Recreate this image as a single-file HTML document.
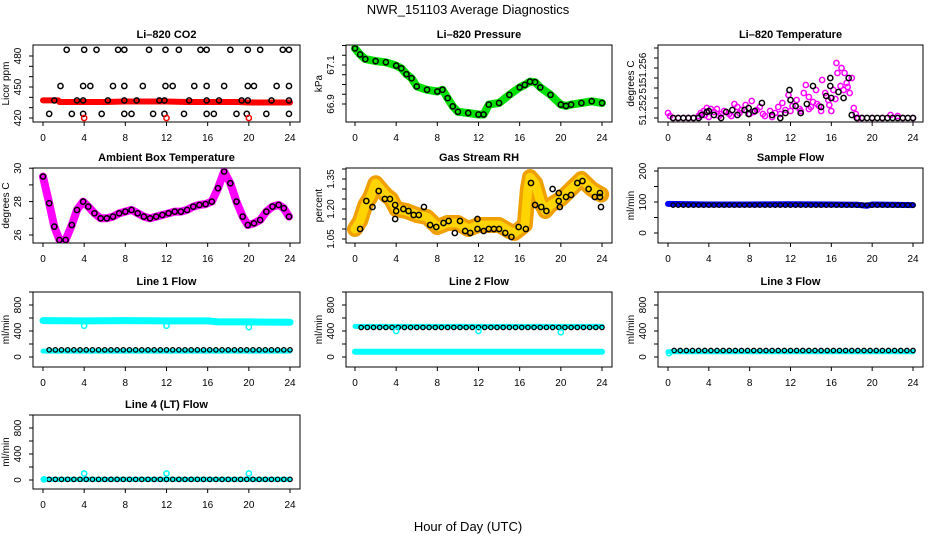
<!DOCTYPE html>
<html><head><meta charset="utf-8"><style>
html,body{margin:0;padding:0;background:#fff}
svg{display:block;font-family:"Liberation Sans",Arial,sans-serif}
</style></head><body>
<svg id="c" width="936" height="540" viewBox="0 0 936 540" xmlns="http://www.w3.org/2000/svg">
<text x="468" y="14" text-anchor="middle" font-size="13">NWR_151103  Average Diagnostics</text>
<text x="468" y="531" text-anchor="middle" font-size="13">Hour of Day (UTC)</text>
</svg>
<script>
// ---- data ----
const hourTicks=[0,4,8,12,16,20,24];
const co2TopT=[2.3,4.0,5.2,7.3,7.9,10.3,11.9,13.2,15.3,15.9,18.2,19.9,21.1,23.3,23.9];
const co2MidT=[1.7,3.9,4.6,6.8,7.9,9.7,11.9,12.6,14.7,15.9,17.6,19.9,20.5,22.7,23.9];
const co2LineT=[1.1,3.3,3.9,6.3,7.9,9.1,11.3,11.8,14.2,15.9,17.1,19.3,19.9,22.2,23.9];
const co2LowT=[0.6,2.8,3.9,5.7,7.9,8.6,10.7,11.8,13.7,15.9,16.6,18.8,19.8,21.7,23.9];
const co2Levels=[486,451,437,424];
const co2RedT=[0,1.5,1.6,6,8,12,14,16,19,20,24];
const co2RedV=[437,437,435.5,435.5,436,436,435.5,435.5,435.5,435,435];
const co2RedPtT=[4,12,20];
const co2RedPtV=[420,420,420];

const presT=[0,0.5,1,2,3,4,4.5,5,5.5,6,7,8,8.5,9,9.5,10,11,12,12.5,13,14,15,16,16.5,17,17.5,18,19,20,20.5,21,22,23,24];
const presV=[67.185,67.154,67.13,67.12,67.114,67.097,67.083,67.053,67.032,66.99,66.973,66.964,66.973,66.93,66.888,66.86,66.854,66.846,66.846,66.897,66.905,66.947,66.985,66.998,67.015,67.012,66.985,66.947,66.897,66.89,66.897,66.905,66.914,66.905];

const tmpMagT=[0,0.2,0.5,1,1.5,2,2.5,3,3.2,3.5,3.8,4.2,4.5,4.8,5.2,5.5,6,6.5,6.8,7.2,7.6,8,8.2,8.7,9,9.5,10,10.5,10.8,11.2,11.5,11.8,12.2,12.6,13,13.3,13.5,13.8,14.2,14.5,14.8,15.1,15.4,15.7,16,16.2,16.5,16.6,16.9,17,17.3,17.5,17.8,18,18.2,18.4,18.6,19,20,21,21.8,22.5,23,24,3.6,4.0,5.0,6.2,7.0,8.4,9.3,10.2,11.0,12.0,12.9,14.0,15.0,15.8,16.4,17.2,17.6,13.8,14.6];
const tmpMagV=[51.2525,51.2522,51.252,51.252,51.252,51.252,51.252,51.2522,51.2525,51.2527,51.253,51.2529,51.2526,51.2529,51.2524,51.2527,51.2524,51.2534,51.2531,51.2528,51.2533,51.2524,51.2537,51.2528,51.2531,51.2522,51.2527,51.2525,51.2531,51.2535,51.2528,51.2543,51.2532,51.2538,51.2527,51.2545,51.2553,51.2541,51.2536,51.2548,51.2532,51.2558,51.2545,51.2538,51.2527,51.2548,51.2575,51.2565,51.2552,51.257,51.2565,51.2555,51.2545,51.256,51.253,51.2524,51.252,51.252,51.252,51.252,51.2523,51.2522,51.252,51.252,51.2523,51.2521,51.2522,51.2522,51.2525,51.2526,51.2524,51.2521,51.2524,51.2527,51.2529,51.2531,51.2527,51.2533,51.2539,51.2548,51.2551,51.2529,51.2534];
const tmpBlkT=[0.5,1,1.5,2,2.5,3,3.3,3.8,4,4.5,5.2,5.7,6.3,6.8,7.5,7.9,7.9,8.5,9.2,10.2,11,11.5,11.9,12,12.5,13,13.6,14.2,15,15.5,15.9,15.9,16,16.7,17.2,17.7,18,18.5,19,19.5,20,20.5,21,21.5,22,22.5,23,23.5,24];
const tmpBlkV=[51.252,51.252,51.252,51.252,51.252,51.252,51.2523,51.2526,51.2527,51.2523,51.252,51.2526,51.2528,51.2523,51.2528,51.253,51.2524,51.2527,51.2535,51.2523,51.252,51.2525,51.2548,51.2538,51.2532,51.2525,51.2534,51.2552,51.2531,51.2542,51.2552,51.256,51.254,51.2546,51.254,51.256,51.2523,51.252,51.252,51.252,51.252,51.252,51.252,51.252,51.252,51.252,51.252,51.252,51.252];

const ambT=[0,0.6,1.1,1.6,2.2,2.8,3.3,3.9,4.4,5,5.6,6.2,6.8,7.4,8,8.6,9.2,9.8,10.4,11,11.6,12.2,12.8,13.4,14,14.6,15.2,15.8,16.4,17,17.6,18.2,18.8,19.4,19.9,20.5,21.1,21.7,22.3,22.9,23.4,23.9];
const ambV=[29.5,27.9,26.5,25.7,25.7,26.6,27.5,28.0,27.7,27.3,27.0,27.0,27.1,27.3,27.4,27.5,27.3,27.1,27.0,27.1,27.2,27.3,27.4,27.4,27.5,27.7,27.8,27.85,28.0,28.8,29.8,29.1,28.0,27.1,26.6,26.7,26.9,27.4,27.7,27.8,27.6,27.1];

const rhT=[0,0.5,1,1.5,2,2.5,3,3.5,4,5,6,7,8,9,10,11,12,13,14,15,15.5,16,16.5,16.8,17,17.5,18,18.5,19,20,21,22,23,24];
const rhV=[1.10,1.14,1.22,1.26,1.33,1.30,1.27,1.25,1.20,1.19,1.17,1.16,1.11,1.13,1.13,1.10,1.12,1.12,1.12,1.09,1.08,1.10,1.12,1.30,1.36,1.33,1.24,1.19,1.22,1.25,1.30,1.35,1.30,1.27];
const rhBlkT=[0.5,1.1,1.7,2.3,2.9,3.4,3.9,3.9,4.0,4.7,5.2,5.7,6.2,6.7,7.3,7.9,8.6,9.1,9.7,10.2,10.7,11.2,11.9,11.9,12.5,13.0,13.5,14.0,14.6,15.2,15.9,16.6,17.1,17.5,18.1,18.6,19.2,19.8,19.8,19.9,20.5,21.0,21.6,22.1,22.7,23.3,23.8,23.9,23.8];
const rhBlkV=[1.10,1.24,1.21,1.29,1.25,1.25,1.22,1.15,1.19,1.20,1.19,1.17,1.17,1.21,1.12,1.11,1.13,1.14,1.08,1.14,1.09,1.08,1.15,1.10,1.09,1.10,1.10,1.10,1.08,1.06,1.11,1.10,1.33,1.22,1.21,1.19,1.30,1.28,1.24,1.21,1.26,1.27,1.33,1.34,1.30,1.26,1.26,1.21,1.28];

const sampT=[0,4,8,12,16,18.5,19.5,20,22,24];
const sampV=[94,92,92,93,92,91,88,92,91,90];

const l1HighT=[0,4,8,12,16,17,20,24];
const l1HighV=[560,555,560,555,555,540,540,535];
const l1LowT=[0,24];
const l1LowV=[90,90];
const l1BlkV=110;
const l1OutT=[4,12,20];
const l1OutV=[480,480,460];

const l2HighV=470;
const l2BlkV=455;
const l2LowV=80;
const l2OutT=[4,12,20];
const l2OutV=[400,400,380];

const l3CyanV=80;
const l3BlkV=100;
const l3OutT=[0.1];
const l3OutV=[60];

const l4CyanV=10;
const l4BlkV=10;
const l4OutT=[4,12,20];
const l4OutV=[100,100,100];

// ---- layout ----
const svg=document.getElementById('c');
const NS='http://www.w3.org/2000/svg';
const cols=[{l:33,r:300,x0:43,x24:290},{l:346,r:612,x0:355,x24:602},{l:658,r:923,x0:668,x24:913}];
const rows=[{t:45,b:122},{t:168,b:243},{t:292,b:367},{t:415,b:489}];
function mk(tag,attrs,parent){const e=document.createElementNS(NS,tag);for(const k in attrs)e.setAttribute(k,attrs[k]);(parent||svg).appendChild(e);return e;}
function xs(c){return h=>c.x0+(c.x24-c.x0)*h/24;}
function range(a,b,s){const r=[];for(let v=a;v<=b+1e-9;v+=s)r.push(+v.toFixed(6));return r;}

function panel(name,title,ylab,ci,ri,ymap,ticks,labels){
  const c=cols[ci],r=rows[ri],X=xs(c);
  const g=mk('g',{});
  
  
  const t=mk('text',{x:(c.l+c.r)/2,y:r.t-7,'text-anchor':'middle','font-size':11,'font-weight':'bold'},g);
  t.textContent=title;
  
  
  const box=mk('rect',{x:c.l,y:r.t,width:c.r-c.l,height:r.b-r.t,fill:'none',stroke:'#000','stroke-width':1},g);
  
  
  const xa=mk('g',{},g);
  
  
  hourTicks.forEach(h=>{
    mk('line',{x1:X(h),x2:X(h),y1:r.b,y2:r.b+4,stroke:'#000'},xa);
    const tt=mk('text',{x:X(h),y:r.b+19,'text-anchor':'middle','font-size':10},xa);
    tt.textContent=h;
  });
  const ya=mk('g',{},g);
  
  
  ticks.forEach(v=>{const y=ymap(v);mk('line',{x1:c.l-4,x2:c.l,y1:y,y2:y,stroke:'#000'},ya);});
  labels.forEach(([v,s])=>{const y=ymap(v);const tt=mk('text',{x:c.l-12,y:y,'text-anchor':'middle','font-size':10,transform:`rotate(-90 ${c.l-12} ${y})`},ya);tt.textContent=s;});
  const yl=mk('text',{x:c.l-24,y:(r.t+r.b)/2,'text-anchor':'middle','font-size':10,transform:`rotate(-90 ${c.l-24} ${(r.t+r.b)/2})`},g);
  yl.textContent=ylab;
  
  
  const clip='clip'+name;
  const cp=mk('clipPath',{id:clip},g);mk('rect',{x:c.l,y:r.t,width:c.r-c.l,height:r.b-r.t},cp);
  const d=mk('g',{'clip-path':`url(#${clip})`},g);
  
  
  return {g:d,X,Y:ymap};
}
function band(p,T,V,color,w,name){
  const pts=T.map((t,i)=>p.X(t).toFixed(1)+','+p.Y(V[i]).toFixed(1)).join(' ');
  const e=mk('polyline',{points:pts,fill:'none',stroke:color,'stroke-width':w,'stroke-linejoin':'round','stroke-linecap':'round'},p.g);
  
  
  return e;
}
function pts(p,T,V,color,name,rad,sw){
  T.forEach((t,i)=>{
    const e=mk('circle',{cx:p.X(t),cy:p.Y(V[i]),r:rad||2.6,fill:'none',stroke:color,'stroke-width':sw||1.5},p.g);
    
    
  });
}
function steps(a,b,s){return range(a,b,s);}

// CO2
{const p=panel('co2','Li\u2013820 CO2','Licor ppm',0,0,v=>118-(v-420)*62/60,range(420,480,10),[[420,'420'],[450,'450'],[480,'480']]);
 band(p,co2RedT,co2RedV,'#ff0000',6,'co2-red-series');
 [co2TopT,co2MidT,co2LineT,co2LowT].forEach((T,k)=>pts(p,T,T.map(()=>co2Levels[k]),'#000','co2-point'));
 pts(p,co2RedPtT,co2RedPtV,'#ff0000','co2-red-point');}
// Pressure
{const p=panel('pressure','Li\u2013820 Pressure','kPa',1,0,v=>65-(v-67.1)*195,range(66.9,67.2,0.05),[[66.9,'66.9'],[67.1,'67.1']]);
 band(p,presT,presV,'#00e000',8,'pressure-green-series');
 pts(p,presT,presV,'#000','pressure-point');}
// Li-820 temperature
{const p=panel('li820-temp','Li\u2013820 Temperature','degrees C',2,0,v=>118-(v-51.252)*10000,range(51.252,51.259,0.001),[[51.2528,'51.252'],[51.255,'51'],[51.257,'51.256']]);
 pts(p,tmpMagT,tmpMagV,'#ff00ff','li820-temp-magenta-point',2.6,1.5);
 pts(p,tmpBlkT,tmpBlkV,'#000','li820-temp-point');}
// Ambient
{const p=panel('ambient-temp','Ambient Box Temperature','degrees C',0,1,v=>235-(v-26)*16.7,range(26,30,1),[[26,'26'],[28,'28'],[30,'30']]);
 band(p,ambT,ambV,'#ff00ff',8,'ambient-magenta-series');
 pts(p,ambT,ambV,'#000','ambient-point');}
// RH
{const p=panel('gas-rh','Gas Stream RH','percent',1,1,v=>239-(v-1.05)*200,range(1.05,1.40,0.05),[[1.05,'1.05'],[1.20,'1.20'],[1.35,'1.35']]);
 band(p,rhT,rhV,'#f0a000',16,'rh-orange-series').setAttribute('stroke-dasharray','2 1');
 band(p,rhT,rhV,'#ffd400',9,'rh-yellow-series').setAttribute('stroke-dasharray','1 2');
 pts(p,rhBlkT,rhBlkV,'#000','rh-point');}
// Sample flow
{const p=panel('sample-flow','Sample Flow','ml/min',2,1,v=>233-v*0.31,range(0,200,50),[[0,'0'],[100,'100'],[200,'200']]);
 band(p,sampT,sampV,'#0000ff',6,'sample-blue-series');
 const T=steps(0.5,24,0.5);pts(p,T,T.map(()=>90),'#000','sample-point',2.2,1.3);}
const flowTicks=range(0,1000,200), flowLabels=[[0,'0'],[400,'400'],[800,'800']];
// Line 1
{const p=panel('line1-flow','Line 1 Flow','ml/min',0,2,v=>357-v*0.065,flowTicks,flowLabels);
 band(p,l1HighT,l1HighV,'#00ffff',7,'line1-cyan-high');
 band(p,l1LowT,l1LowV,'#00ffff',5,'line1-cyan-low');
 const T=steps(0.6,24,0.6);pts(p,T,T.map(()=>l1BlkV),'#000','line1-point',2.2,1.3);
 pts(p,l1OutT,l1OutV,'#00ffff','line1-cyan-point');}
// Line 2
{const p=panel('line2-flow','Line 2 Flow','ml/min',1,2,v=>357-v*0.065,flowTicks,flowLabels);
 band(p,[0,24],[l2HighV,l2HighV],'#00ffff',5,'line2-cyan-high');
 band(p,[0,24],[l2LowV,l2LowV],'#00ffff',6,'line2-cyan-low');
 const T=steps(0.6,24,0.6);pts(p,T,T.map(()=>l2BlkV),'#000','line2-point',2.2,1.3);
 pts(p,l2OutT,l2OutV,'#00ffff','line2-cyan-point');}
// Line 3
{const p=panel('line3-flow','Line 3 Flow','ml/min',2,2,v=>357-v*0.065,flowTicks,flowLabels);
 band(p,[0,24],[l3CyanV,l3CyanV],'#00ffff',5,'line3-cyan');
 const T=steps(0.6,24,0.6);pts(p,T,T.map(()=>l3BlkV),'#000','line3-point',2.2,1.3);
 pts(p,l3OutT,l3OutV,'#00ffff','line3-cyan-point');}
// Line 4
{const p=panel('line4-flow','Line 4 (LT) Flow','ml/min',0,3,v=>480-v*0.065,flowTicks,flowLabels);
 band(p,[0,24],[l4CyanV,l4CyanV],'#00ffff',5,'line4-cyan');
 const T=steps(0.6,24,0.6);pts(p,T,T.map(()=>l4BlkV),'#000','line4-point',2.2,1.3);
 pts(p,[0.1],[l4CyanV],'#00ffff','line4-cyan-start');
 pts(p,l4OutT,l4OutV,'#00ffff','line4-cyan-point');}
</script>
</body></html>
